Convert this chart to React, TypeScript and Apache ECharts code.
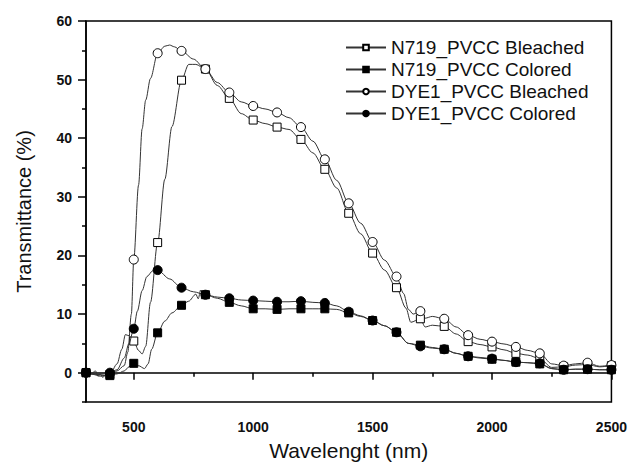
import React, { useEffect, useRef } from "react";
import * as echarts from "echarts";

const seriesNames = [
  "N719_PVCC Bleached",
  "N719_PVCC Colored",
  "DYE1_PVCC Bleached",
  "DYE1_PVCC Colored",
];

const n719Bleached: number[][] = [
  [300, 0], [330, -0.3], [360, -0.6], [400, -0.3], [430, 1.5], [450, 4], [465, 6.5], [480, 6.3],
  [500, 5.4], [520, 3.8], [535, 3.2], [550, 4.5], [570, 12], [600, 22.2], [630, 33], [660, 42],
  [700, 49.9], [730, 52.6], [760, 52.6], [800, 51.8], [850, 49], [900, 46.8], [950, 44.2],
  [1000, 43.1], [1050, 42.5], [1100, 41.9], [1150, 41.5], [1200, 39.8], [1250, 37.5],
  [1300, 34.7], [1350, 31.5], [1400, 27.2], [1450, 23.7], [1500, 20.4], [1550, 17.5],
  [1600, 14.5], [1640, 11], [1660, 8.6], [1700, 9.2], [1720, 7.8], [1750, 8.1], [1800, 7.9],
  [1850, 6.6], [1900, 5.3], [1950, 4.8], [2000, 4.4], [2050, 3.9], [2100, 3.3], [2150, 3.0],
  [2200, 2.4], [2250, 0.9], [2300, 1.0], [2350, 1.3], [2400, 1.4], [2450, 1.0], [2500, 1.2],
];

const n719Colored: number[][] = [
  [300, 0], [320, -0.2], [340, 0.3], [350, -0.6], [360, -0.2], [370, -0.8], [385, -0.3],
  [400, -0.5], [430, -0.2], [460, 0.3], [480, 1.0], [500, 1.6], [520, 1.2], [545, 0.7],
  [560, 1.5], [575, 4], [600, 6.8], [630, 8.8], [660, 10.2], [700, 11.5], [730, 12.2],
  [760, 13.4], [770, 12.6], [780, 14.1], [790, 12.7], [800, 13.3], [850, 12.7], [900, 12.0],
  [950, 11.4], [1000, 10.9], [1050, 10.9], [1100, 10.8], [1150, 10.9], [1200, 10.9],
  [1250, 10.9], [1300, 10.9], [1350, 10.8], [1400, 10.2], [1450, 9.6], [1500, 8.9],
  [1550, 8.0], [1600, 6.9], [1650, 5.0], [1700, 4.7], [1750, 4.3], [1800, 4.0], [1850, 3.3],
  [1900, 2.8], [1950, 2.5], [2000, 2.3], [2050, 2.1], [2100, 1.8], [2150, 1.7], [2200, 1.5],
  [2250, 0.7], [2300, 0.5], [2350, 0.6], [2400, 0.6], [2450, 0.5], [2500, 0.5],
];

const dye1Bleached: number[][] = [
  [300, 0], [340, -0.3], [380, -0.5], [400, -0.2], [430, 0.3], [460, 1.2], [475, 3.5],
  [490, 10], [500, 19.3], [520, 32], [535, 41.6], [550, 46.5], [570, 50.2], [600, 54.5],
  [630, 55.7], [650, 55.9], [670, 55.6], [700, 54.9], [750, 53.5], [800, 51.8], [850, 49.5],
  [900, 47.8], [950, 46.2], [1000, 45.5], [1050, 45], [1100, 44.4], [1150, 43.5],
  [1200, 41.9], [1250, 39.5], [1300, 36.4], [1350, 32.8], [1400, 28.9], [1450, 25.5],
  [1500, 22.3], [1550, 19.2], [1600, 16.4], [1630, 13.5], [1650, 10.8], [1670, 10.0],
  [1700, 10.5], [1720, 9.3], [1750, 9.6], [1800, 9.2], [1850, 7.8], [1900, 6.4], [1950, 5.7],
  [2000, 5.3], [2050, 4.9], [2100, 4.4], [2150, 3.8], [2200, 3.3], [2250, 1.5], [2300, 1.2],
  [2350, 1.5], [2400, 1.7], [2450, 1.1], [2500, 1.3],
];

const dye1Colored: number[][] = [
  [300, 0], [320, -0.1], [350, -0.3], [380, -0.2], [400, 0], [430, 0.5], [460, 2.5],
  [480, 5], [500, 7.5], [515, 10.5], [535, 14], [555, 16.4], [580, 17.4], [600, 17.5],
  [650, 16], [700, 14.5], [750, 13.8], [800, 13.3], [850, 12.9], [900, 12.7], [950, 12.4],
  [1000, 12.3], [1050, 12.2], [1100, 12.1], [1150, 12.1], [1200, 12.2], [1250, 12.0],
  [1300, 11.9], [1350, 11.4], [1400, 10.4], [1450, 9.7], [1500, 8.9], [1550, 8.0],
  [1600, 6.9], [1650, 5.0], [1700, 4.5], [1750, 4.2], [1800, 4.0], [1850, 3.3], [1900, 2.8],
  [1950, 2.6], [2000, 2.4], [2050, 2.1], [2100, 1.8], [2150, 1.7], [2200, 1.6], [2250, 0.7],
  [2300, 0.5], [2350, 0.6], [2400, 0.6], [2450, 0.5], [2500, 0.5],
];

const xLabelTicks = [500, 1000, 1500, 2000, 2500];
const xMinorTicks = [300, 750, 1250, 1750, 2250];
const yLabelTicks = [0, 10, 20, 30, 40, 50, 60];
const yMinorTicks = [-5, 5, 15, 25, 35, 45, 55];

const FONT = "Liberation Sans, Arial, sans-serif";
const LINE = "#333";

export default function App() {
  const ref = useRef<HTMLDivElement>(null);
  useEffect(() => {
    if (!ref.current) return;
    const chart = echarts.init(ref.current, undefined, { renderer: "svg" });
    const mk = (
      name: string,
      data: number[][],
      symbol: string,
      filled: boolean,
      size: number
    ) => ({
      name,
      type: "line",
      data,
      smooth: 0.3,
      smoothMonotone: "x",
      symbol,
      symbolSize: (v: number[]) => (v[0] % 100 === 0 ? size : 0),
      showAllSymbol: true,
      lineStyle: { color: LINE, width: 1 },
      itemStyle: {
        color: filled ? "#000" : "#fff",
        borderColor: "#000",
        borderWidth: 1,
      },
      z: filled ? 3 : 2,
    });
    chart.setOption({
      animation: false,
      backgroundColor: "#fff",
      grid: {
        left: 86,
        right: 17,
        top: 21,
        bottom: 58,
        show: true,
        borderColor: "#000",
        borderWidth: 1.5,
      },
      legend: {
        orient: "vertical",
        left: 340,
        top: 33,
        itemWidth: 40,
        itemHeight: 7,
        itemGap: 3,
        textStyle: { fontFamily: FONT, fontSize: 19, color: "#111" },
        data: seriesNames,
      },
      xAxis: [
        {
          type: "value",
          min: 300,
          max: 2500,
          name: "Wavelenght (nm)",
          nameLocation: "middle",
          nameGap: 38,
          nameTextStyle: { fontFamily: FONT, fontSize: 21, color: "#111" },
          axisLine: { show: true, lineStyle: { color: "#000", width: 1.5 } },
          axisTick: {
            show: true,
            customValues: xLabelTicks,
            length: 7,
            lineStyle: { color: "#000", width: 1.5 },
          },
          axisLabel: {
            customValues: xLabelTicks,
            formatter: (v: number) => String(v),
            margin: 18,
            fontFamily: FONT,
            fontSize: 14,
            fontWeight: "bold",
            color: "#111",
          },
          splitLine: { show: false },
        },
        {
          type: "value",
          min: 300,
          max: 2500,
          position: "bottom",
          axisLine: { show: false },
          axisTick: {
            show: true,
            customValues: xMinorTicks,
            length: 4,
            lineStyle: { color: "#000", width: 1.5 },
          },
          axisLabel: { show: false },
          splitLine: { show: false },
        },
      ],
      yAxis: [
        {
          type: "value",
          min: -5,
          max: 60,
          name: "Transmittance (%)",
          nameLocation: "middle",
          nameGap: 52,
          nameTextStyle: { fontFamily: FONT, fontSize: 20, color: "#111" },
          axisLine: { show: true, lineStyle: { color: "#000", width: 1.5 } },
          axisTick: {
            show: true,
            customValues: yLabelTicks,
            length: 8,
            lineStyle: { color: "#000", width: 1.5 },
          },
          axisLabel: {
            customValues: yLabelTicks,
            formatter: (v: number) => String(v),
            margin: 14,
            fontFamily: FONT,
            fontSize: 14,
            fontWeight: "bold",
            color: "#111",
          },
          splitLine: { show: false },
        },
        {
          type: "value",
          min: -5,
          max: 60,
          position: "left",
          axisLine: { show: false },
          axisTick: {
            show: true,
            customValues: yMinorTicks,
            length: 4,
            lineStyle: { color: "#000", width: 1.5 },
          },
          axisLabel: { show: false },
          splitLine: { show: false },
        },
      ],
      series: [
        mk(seriesNames[0], n719Bleached, "rect", false, 8),
        mk(seriesNames[1], n719Colored, "rect", true, 8),
        mk(seriesNames[2], dye1Bleached, "circle", false, 9),
        mk(seriesNames[3], dye1Colored, "circle", true, 9),
      ],
    });
    return () => chart.dispose();
  }, []);
  return (
    <div
      ref={ref}
      style={{ position: "fixed", left: 0, top: 0, width: 630, height: 466 }}
    />
  );
}
